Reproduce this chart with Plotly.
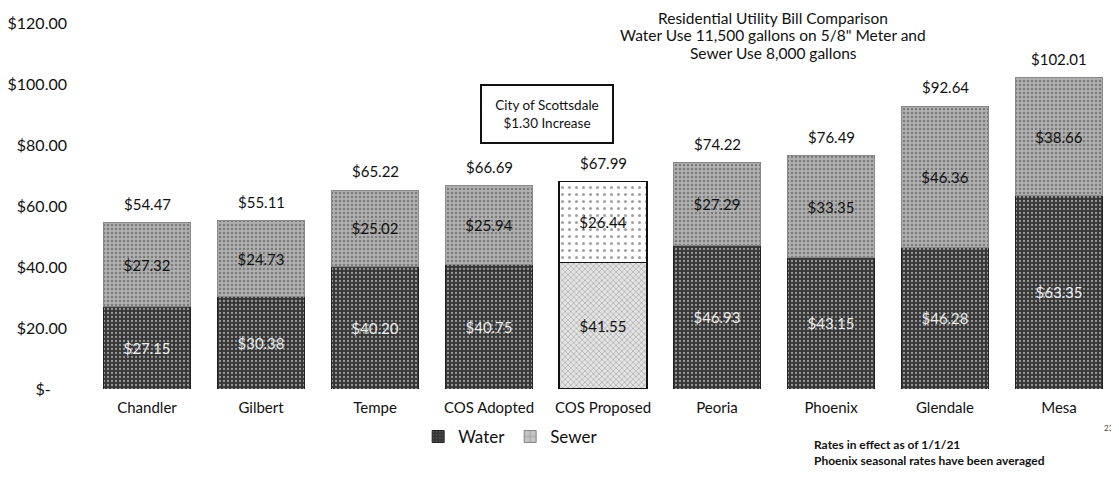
import plotly.graph_objects as go

cities = ["Chandler", "Gilbert", "Tempe", "COS Adopted", "COS Proposed",
          "Peoria", "Phoenix", "Glendale", "Mesa"]
water = [27.15, 30.38, 40.20, 40.75, 41.55, 46.93, 43.15, 46.28, 63.35]
sewer = [27.32, 24.73, 25.02, 25.94, 26.44, 27.29, 33.35, 46.36, 38.66]
totals = [54.47, 55.11, 65.22, 66.69, 67.99, 74.22, 76.49, 92.64, 102.01]
tick_vals = [0, 20, 40, 60, 80, 100, 120]
tick_text = ["$-\u00a0\u00a0\u00a0\u00a0", "$20.00", "$40.00", "$60.00",
             "$80.00", "$100.00", "$120.00"]
title_lines = ["Residential Utility Bill Comparison",
               "Water Use 11,500 gallons on 5/8\" Meter and",
               "Sewer Use 8,000 gallons"]

FONT = "Lato"
special = "COS Proposed"

def arr(normal, sp):
    return [sp if c == special else normal for c in cities]

fig = go.Figure()
fig.add_trace(go.Bar(
    x=cities, y=water, name="Water",
    marker=dict(
        color=arr("#363636", "#e4e4e4"),
        line=dict(color=arr("#222222", "#111111"), width=arr(1, 1.5)),
        pattern=dict(shape=arr(".", "x"), fgcolor=arr("#6a6a6a", "#9a9a9a"),
                     size=4, solidity=0.25),
    ),
    texttemplate="$%{y:.2f}", textposition="inside", insidetextanchor="middle",
    textangle=0, constraintext="none",
    textfont=dict(family=FONT, size=15, color=arr("#eeeeee", "#111111")),
))
fig.add_trace(go.Bar(
    x=cities, y=sewer, name="Sewer",
    marker=dict(
        color=arr("#b0b0b0", "#ffffff"),
        line=dict(color=arr("#888888", "#111111"), width=arr(1, 1.5)),
        pattern=dict(shape=arr(".", "."), fgcolor=arr("#d8d8d8", "#a0a0a0"),
                     size=arr(4, 7), solidity=arr(0.3, 0.15)),
    ),
    texttemplate="$%{y:.2f}", textposition="inside", insidetextanchor="middle",
    textangle=0, constraintext="none",
    textfont=dict(family=FONT, size=15, color="#111111"),
))

for c, t in zip(cities, totals):
    fig.add_annotation(x=c, y=t, text=f"${t:.2f}", showarrow=False,
                       yanchor="bottom", yshift=8,
                       font=dict(family=FONT, size=15, color="#111111"))

for line, yy in zip(title_lines, [1.0137, 0.9672, 0.918]):
    fig.add_annotation(xref="paper", yref="paper", x=0.6657, y=yy,
                       xanchor="center", yanchor="middle", showarrow=False,
                       text=line, font=dict(family=FONT, size=15.5, color="#111111"))
fig.add_annotation(xref="paper", yref="paper", x=0.4454, y=0.751,
                   xanchor="center", yanchor="middle", showarrow=False,
                   text="City of Scottsdale<br>$1.30 Increase",
                   font=dict(family=FONT, size=13.5, color="#111111"),
                   bordercolor="#111111", borderwidth=2, borderpad=5,
                   bgcolor="white", width=120, height=46)
fig.add_annotation(xref="paper", yref="paper", x=0.7037, y=-0.125,
                   xanchor="left", yanchor="top", showarrow=False, align="left",
                   text="<b>Rates in effect as of 1/1/21<br>Phoenix seasonal rates have been averaged</b>",
                   font=dict(family=FONT, size=12, color="#111111"))
fig.add_annotation(xref="paper", yref="paper", x=1.0, y=-0.107,
                   xanchor="right", yanchor="middle", showarrow=False,
                   text="23", font=dict(family=FONT, size=8, color="#444444"))

fig.update_layout(
    barmode="stack", bargap=0.23,
    width=1119, height=481,
    margin=dict(l=82, r=11, t=15, b=100),
    paper_bgcolor="white", plot_bgcolor="white",
    font=dict(family=FONT, size=15, color="#111111"),
    showlegend=True,
    legend=dict(orientation="h", x=0.41, y=-0.131, xanchor="center",
                yanchor="middle", font=dict(family=FONT, size=17),
                traceorder="normal", itemwidth=30, bgcolor="rgba(0,0,0,0)"),
)
fig.update_yaxes(range=[0, 120], tickvals=tick_vals, ticktext=tick_text,
                 showgrid=False, zeroline=False, showline=False, automargin=False,
                 ticklabelstandoff=22, tickfont=dict(family=FONT, size=16))
fig.update_xaxes(showgrid=False, showline=False, ticks="", automargin=False,
                 ticklabelstandoff=8, tickfont=dict(family=FONT, size=15))

fig.write_html("out.html")
